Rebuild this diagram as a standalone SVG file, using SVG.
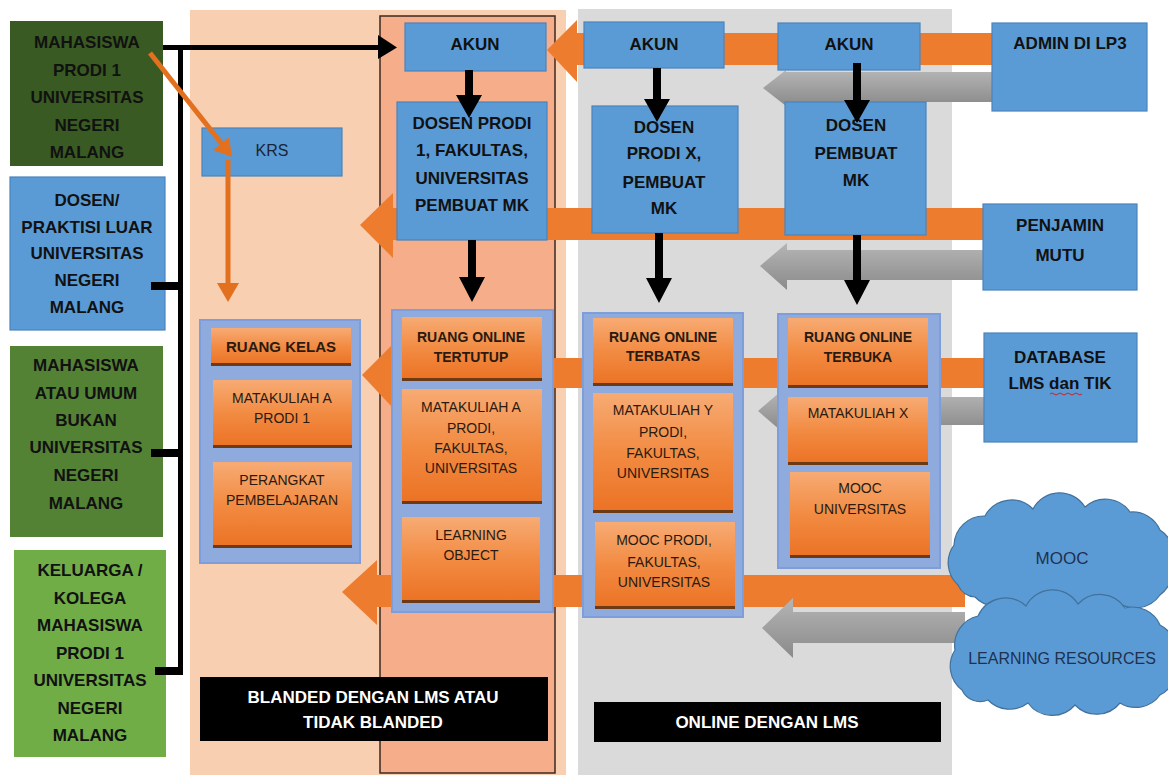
<svg xmlns="http://www.w3.org/2000/svg" width="1168" height="775" viewBox="0 0 1168 775">
<defs>
<linearGradient id="og" x1="0" y1="0" x2="0" y2="1">
<stop offset="0" stop-color="#f7ab74"/>
<stop offset="0.5" stop-color="#f28b42"/>
<stop offset="1" stop-color="#eb7224"/>
</linearGradient>
<linearGradient id="gg" x1="0" y1="0" x2="0" y2="1">
<stop offset="0" stop-color="#b5b5b5"/>
<stop offset="1" stop-color="#8a8a8a"/>
</linearGradient>
<style>
text{font-family:"Liberation Sans",Arial,sans-serif;text-anchor:middle}
.b{font-weight:bold;font-size:17px;fill:#111}
.h{font-weight:bold;font-size:14px;fill:#2a1a10}
.r{font-size:14px;fill:#2a1a10}
.w{font-weight:bold;font-size:17px;fill:#fff}
.blue{fill:#5b9bd5;stroke:#4a84bd;stroke-width:1.2}
.cont{fill:#8faadc;stroke:#7d9ddb;stroke-width:2}
.ob{fill:url(#og)}
.sh{fill:#6e3a14}
.oa{fill:#ee7c2f}
.ga{fill:url(#gg)}
.blk{fill:#000}
.cloud{fill:#5b9bd5;stroke:#41719c;stroke-width:1.2}
.ct{font-size:17px;fill:#1f3050}
</style>
</defs>
<rect width="1168" height="775" fill="#fff"/>
<g id="regions">
<rect x="190" y="10" width="376" height="765" fill="#f9cfb2"/>
<rect x="578" y="9" width="374" height="766" fill="#dadada"/>
<rect x="380" y="16" width="175" height="757" fill="#f5ad8a" stroke="#3a2a20" stroke-width="1.5"/>
</g>
<g id="connectors">
<polygon class="oa" points="992,33 577,33 577,20 547,50 577,82 577,65 992,65"/>
<polygon class="oa" points="983,208 393,208 393,193 360,225 393,258 393,240 983,240"/>
<polygon class="oa" points="984,358 392,358 392,345 362,375 392,407 392,388 984,388"/>
<polygon class="oa" points="965,575 377,575 377,560 342,592 377,625 377,607 965,607"/>
<polygon class="ga" points="992,72 786,72 786,70 763,88 786,106 786,102 992,102"/>
<polygon class="ga" points="983,250 787,250 787,243 760,266 787,290 787,280 983,280"/>
<polygon class="ga" points="984,397 780,397 780,392 758,411 780,430 780,425 984,425"/>
<polygon class="ga" points="965,612 793,612 793,598 762,628 793,658 793,643 965,643"/>
</g>
<g id="n-mhs1"><rect x="10" y="21" width="153" height="145" fill="#395a22"/>
<text class="b" x="87" y="48">MAHASISWA</text><text class="b" x="87" y="76">PRODI 1</text><text class="b" x="87" y="103">UNIVERSITAS</text><text class="b" x="87" y="131">NEGERI</text><text class="b" x="87" y="158">MALANG</text></g>
<g id="n-dosen-luar"><rect x="10" y="177" width="155" height="153" class="blue"/>
<text class="b" x="87" y="206">DOSEN/</text><text class="b" x="87" y="233">PRAKTISI LUAR</text><text class="b" x="87" y="259">UNIVERSITAS</text><text class="b" x="87" y="286">NEGERI</text><text class="b" x="87" y="313">MALANG</text></g>
<g id="n-umum"><rect x="10" y="346" width="153" height="191" fill="#548235"/>
<text class="b" x="86" y="371">MAHASISWA</text><text class="b" x="86" y="399">ATAU UMUM</text><text class="b" x="86" y="426">BUKAN</text><text class="b" x="86" y="453">UNIVERSITAS</text><text class="b" x="86" y="481">NEGERI</text><text class="b" x="86" y="509">MALANG</text></g>
<g id="n-keluarga"><rect x="14" y="550" width="152" height="207" fill="#70ad47"/>
<text class="b" x="90" y="576">KELUARGA /</text><text class="b" x="90" y="604">KOLEGA</text><text class="b" x="90" y="631">MAHASISWA</text><text class="b" x="90" y="659">PRODI 1</text><text class="b" x="90" y="686">UNIVERSITAS</text><text class="b" x="90" y="714">NEGERI</text><text class="b" x="90" y="741">MALANG</text></g>
<g id="n-krs"><rect x="202" y="128" width="140" height="48" class="blue"/>
<text x="272" y="156" style="font-size:16px;fill:#1a2535">KRS</text></g>
<g id="n-akun1"><rect x="405" y="23" width="141" height="48" class="blue"/><text class="b" x="475" y="50">AKUN</text></g>
<g id="n-akun2"><rect x="584" y="22" width="140" height="46" class="blue"/><text class="b" x="654" y="50">AKUN</text></g>
<g id="n-akun3"><rect x="778" y="23" width="142" height="47" class="blue"/><text class="b" x="849" y="50">AKUN</text></g>
<g id="n-admin"><rect x="992" y="23" width="155" height="88" class="blue"/><text class="b" x="1070" y="49">ADMIN DI LP3</text></g>
<g id="n-dosen1"><rect x="397" y="102" width="150" height="138" class="blue"/>
<text class="b" x="472" y="129">DOSEN PRODI</text><text class="b" x="472" y="156">1, FAKULTAS,</text><text class="b" x="472" y="184">UNIVERSITAS</text><text class="b" x="472" y="211">PEMBUAT MK</text></g>
<g id="n-dosenx"><rect x="592" y="106" width="146" height="127" class="blue"/>
<text class="b" x="664" y="133">DOSEN</text><text class="b" x="664" y="159">PRODI X,</text><text class="b" x="664" y="188">PEMBUAT</text><text class="b" x="664" y="214">MK</text></g>
<g id="n-dosenmk"><rect x="785" y="102" width="141" height="133" class="blue"/>
<text class="b" x="856" y="131">DOSEN</text><text class="b" x="856" y="159">PEMBUAT</text><text class="b" x="856" y="186">MK</text></g>
<g id="n-penjamin"><rect x="983" y="204" width="154" height="86" class="blue"/>
<text class="b" x="1060" y="231">PENJAMIN</text><text class="b" x="1060" y="261">MUTU</text></g>
<g id="n-database"><rect x="984" y="333" width="153" height="109" class="blue"/>
<text class="b" x="1060" y="363">DATABASE</text><text class="b" x="1060" y="389">LMS dan TIK</text>
<path d="M1050 394 q2 -2 4 0 t4 0 t4 0 t4 0 t4 0 t4 0 t4 0 t4 0" fill="none" stroke="#d02020" stroke-width="1"/></g>
<g id="n-kelas"><rect x="200" y="320" width="160" height="243" class="cont"/>
<rect x="211" y="328" width="140" height="37" class="ob"/><rect x="211" y="363" width="140" height="3" class="sh"/>
<text class="h" x="281" y="352" style="font-size:15px">RUANG KELAS</text>
<rect x="213" y="380" width="139" height="67" class="ob"/><rect x="213" y="445" width="139" height="3" class="sh"/>
<text class="r" x="282" y="403">MATAKULIAH A</text><text class="r" x="282" y="423">PRODI 1</text>
<rect x="213" y="462" width="139" height="85" class="ob"/><rect x="213" y="545" width="139" height="3" class="sh"/>
<text class="r" x="282" y="485">PERANGKAT</text><text class="r" x="282" y="505">PEMBELAJARAN</text></g>
<g id="n-tertutup"><rect x="392" y="310" width="161" height="302" class="cont"/>
<rect x="402" y="317" width="140" height="63" class="ob"/><rect x="402" y="378" width="140" height="3" class="sh"/>
<text class="h" x="471" y="342">RUANG ONLINE</text><text class="h" x="471" y="362">TERTUTUP</text>
<rect x="402" y="389" width="140" height="114" class="ob"/><rect x="402" y="501" width="140" height="3" class="sh"/>
<text class="r" x="471" y="412">MATAKULIAH A</text><text class="r" x="471" y="433">PRODI,</text><text class="r" x="471" y="453">FAKULTAS,</text><text class="r" x="471" y="473">UNIVERSITAS</text>
<rect x="402" y="517" width="138" height="85" class="ob"/><rect x="402" y="600" width="138" height="3" class="sh"/>
<text class="r" x="471" y="540">LEARNING</text><text class="r" x="471" y="560">OBJECT</text></g>
<g id="n-terbatas"><rect x="583" y="313" width="160" height="304" class="cont"/>
<rect x="593" y="318" width="140" height="67" class="ob"/><rect x="593" y="383" width="140" height="3" class="sh"/>
<text class="h" x="663" y="342">RUANG ONLINE</text><text class="h" x="663" y="361">TERBATAS</text>
<rect x="593" y="393" width="140" height="119" class="ob"/><rect x="593" y="510" width="140" height="3" class="sh"/>
<text class="r" x="663" y="415">MATAKULIAH Y</text><text class="r" x="663" y="437">PRODI,</text><text class="r" x="663" y="458">FAKULTAS,</text><text class="r" x="663" y="478">UNIVERSITAS</text>
<rect x="595" y="522" width="140" height="86" class="ob"/><rect x="595" y="606" width="140" height="3" class="sh"/>
<text class="r" x="664" y="545">MOOC PRODI,</text><text class="r" x="664" y="567">FAKULTAS,</text><text class="r" x="664" y="587">UNIVERSITAS</text></g>
<g id="n-terbuka"><rect x="778" y="314" width="162" height="254" class="cont"/>
<rect x="788" y="318" width="140" height="69" class="ob"/><rect x="788" y="385" width="140" height="3" class="sh"/>
<text class="h" x="858" y="342">RUANG ONLINE</text><text class="h" x="858" y="362">TERBUKA</text>
<rect x="788" y="397" width="140" height="67" class="ob"/><rect x="788" y="462" width="140" height="3" class="sh"/>
<text class="r" x="858" y="418">MATAKULIAH X</text>
<rect x="790" y="472" width="140" height="85" class="ob"/><rect x="790" y="555" width="140" height="3" class="sh"/>
<text class="r" x="860" y="493">MOOC</text><text class="r" x="860" y="514">UNIVERSITAS</text></g>
<g id="n-mooc"><path class="cloud" d="M958 585 A30 30 0 0 1 954 545 A30 30 0 0 1 985 516 A30 30 0 0 1 1033 509 A30 30 0 0 1 1085 507 A30 30 0 0 1 1130 512 A30 30 0 0 1 1160 530 A30 30 0 0 1 1172 565 A30 30 0 0 1 1160 595 A30 30 0 0 1 1115 600 A30 30 0 0 1 1065 602 A30 30 0 0 1 1015 600 A30 30 0 0 1 975 597 A20 20 0 0 1 958 585 Z"/>
<text class="ct" x="1062" y="564">MOOC</text></g>
<g id="n-lr"><path class="cloud" d="M962 690 A30 30 0 0 1 955 650 A30 30 0 0 1 978 616 A30 30 0 0 1 1026 606 A30 30 0 0 1 1078 604 A30 30 0 0 1 1125 608 A30 30 0 0 1 1160 625 A30 30 0 0 1 1175 660 A30 30 0 0 1 1160 695 A30 30 0 0 1 1120 703 A30 30 0 0 1 1075 705 A30 30 0 0 1 1028 703 A30 30 0 0 1 988 700 A20 20 0 0 1 962 690 Z"/>
<text class="ct" x="1062" y="664" style="font-size:16px">LEARNING RESOURCES</text></g>
<g id="n-label-blanded"><rect x="200" y="677" width="348" height="64" fill="#000"/>
<text class="w" x="373" y="703">BLANDED DENGAN LMS ATAU</text><text class="w" x="373" y="728">TIDAK BLANDED</text></g>
<g id="n-label-online"><rect x="594" y="702" width="347" height="40" fill="#000"/>
<text class="w" x="767" y="728">ONLINE DENGAN LMS</text></g>
<g id="connectors-lines">
<rect x="178" y="45" width="5" height="630" class="blk"/>
<rect x="163" y="45" width="217" height="5" class="blk"/>
<polygon class="blk" points="378,35 397,47.5 378,59"/>
<rect x="151" y="282" width="30" height="8" class="blk"/>
<rect x="151" y="449" width="30" height="8" class="blk"/>
<rect x="155" y="667" width="26" height="8" class="blk"/>
<polygon class="blk" points="465,70 473,70 473,95 482,95 469,118 456,95 465,95"/>
<polygon class="blk" points="653,68 661,68 661,99 670,99 657,122 644,99 653,99"/>
<polygon class="blk" points="853,63 861,63 861,100 870,100 857,123 844,100 853,100"/>
<polygon class="blk" points="468,240 476,240 476,277 485,277 472,302 459,277 468,277"/>
<polygon class="blk" points="655,233 663,233 663,278 672,278 659,303 646,278 655,278"/>
<polygon class="blk" points="853,235 861,235 861,280 870,280 857,305 844,280 853,280"/>
<line x1="150" y1="53" x2="222" y2="144" stroke="#e3701f" stroke-width="5"/>
<polygon fill="#e3701f" points="232,157 213,150 229,137"/>
<rect x="225.5" y="160" width="5" height="125" fill="#e3701f"/>
<polygon fill="#e3701f" points="217,283 239,283 228,302"/>
</g>
</svg>
